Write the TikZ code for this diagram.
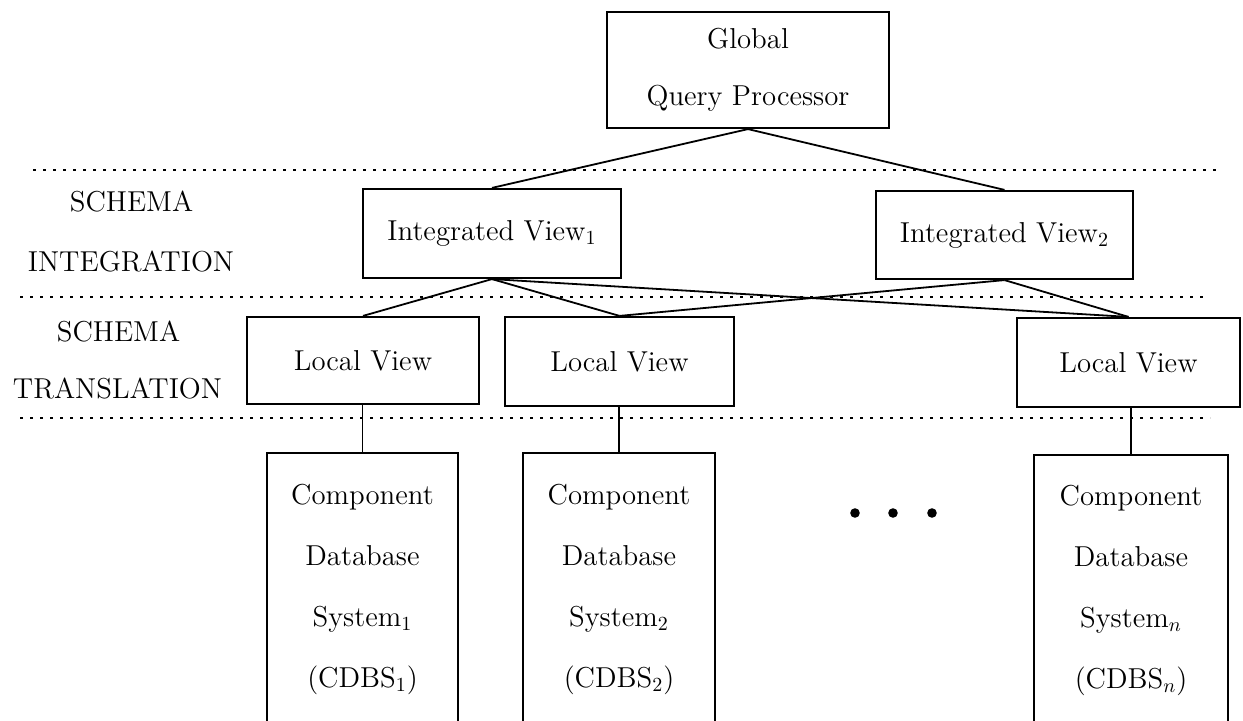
\documentclass[tikz,border=0pt]{standalone}
\begin{document}
\begin{tikzpicture}[x=0.5pt,y=-0.5pt,
  box/.style={draw,line width=1.1pt,inner sep=0pt,align=center,font=\fontsize{14.4}{28.5}\selectfont},
  tall/.style={box,font=\fontsize{14.4}{30.5}\selectfont},
  link/.style={line width=0.9pt},
  sep/.style={line width=1.3pt,dash pattern=on 1.4pt off 3.6pt},
  lab/.style={font=\fontsize{14.4}{17}\selectfont}]
\useasboundingbox (0,0) rectangle (1243,721);
% separators
\draw[sep] (33,170) -- (1222,170);
\draw[sep] (20,297) -- (1207,297);
\draw[sep] (20,418) -- (1210,418);
% labels
\node[lab] (l1) at (131.5,202) {SCHEMA};
\node[lab] (l2) at (131,262) {INTEGRATION};
\node[lab] (l3) at (118.5,332) {SCHEMA};
\node[lab] (l4) at (117.5,389) {TRANSLATION};
% boxes
\node[box,minimum width=141pt,minimum height=58pt] (gqp) at (748,70) {Global\\Query Processor};
\node[box,minimum width=129pt,minimum height=44.5pt] (iv1) at (492,233.5) {Integrated View$_1$};
\node[box,minimum width=128.5pt,minimum height=44pt] (iv2) at (1004.5,235) {Integrated View$_2$};
\node[box,minimum width=116pt,minimum height=43.5pt] (lv1) at (363,360.5) {Local View};
\node[box,minimum width=114.5pt,minimum height=44.5pt] (lv2) at (619.5,361.5) {Local View};
\node[box,minimum width=111.5pt,minimum height=44.5pt] (lv3) at (1128.5,362.5) {Local View};
\node[tall,minimum width=95.5pt,minimum height=136pt] (c1) at (362.5,589) {Component\\Database\\System$_1$\\(CDBS$_1$)};
\node[tall,minimum width=96pt,minimum height=136pt] (c2) at (619,589) {Component\\Database\\System$_2$\\(CDBS$_2$)};
\node[tall,minimum width=97pt,minimum height=135pt] (cn) at (1131,590) {Component\\Database\\System$_n$\\(CDBS$_n$)};
% connectors
\draw[link] (gqp.south) -- (iv1.north);
\draw[link] (gqp.south) -- (iv2.north);
\draw[link] (iv1.south) -- (lv1.north);
\draw[link] (iv1.south) -- (lv2.north);
\draw[link] (iv1.south) -- (lv3.north);
\draw[link] (iv2.south) -- (lv2.north);
\draw[link] (iv2.south) -- (lv3.north);
\draw[link] (c1.north) -- (c1.north |- lv1.south);
\draw[link] (c2.north) -- (c2.north |- lv2.south);
\draw[link] (cn.north) -- (cn.north |- lv3.south);
% ellipsis dots
\fill (855,513) circle (2.4pt);
\fill (893,513) circle (2.4pt);
\fill (932,513) circle (2.4pt);
\end{tikzpicture}
\end{document}
